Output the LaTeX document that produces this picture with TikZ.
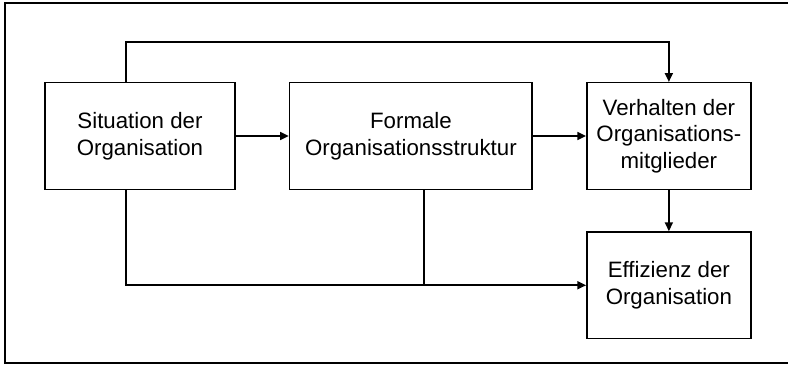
\documentclass[tikz,border=0pt]{standalone}
\usepackage{fontspec}
\setmainfont{Liberation Sans}
\usetikzlibrary{arrows.meta,positioning}
\tikzset{
  flowarrow/.style={-{Triangle[length=6.5pt,width=6pt]}, line width=1.2pt},
  flowline/.style={line width=1.2pt},
  block/.style={draw, line width=1.2pt, align=center, minimum height=80pt,
    inner sep=2pt, font=\fontsize{16.7}{20}\selectfont}
}
\begin{document}
\begin{tikzpicture}[node distance=30.75pt and 39.75pt]
    \useasboundingbox (0,0) rectangle (591pt,-273.75pt);
    % frame, open on the right
    \draw[flowline] (591pt,-2.25pt) -- (3.75pt,-2.25pt) -- (3.75pt,-272.25pt) -- (591pt,-272.25pt);

    \node[block, minimum width=142.5pt] (sit) at (105pt,-102pt) {Situation der\\Organisation};
    \node[block, minimum width=182pt, right=of sit] (form) {Formale\\Organisationsstruktur};
    \node[block, minimum width=123pt, right=of form] (verh) {Verhalten der\\Organisations-\\mitglieder};
    \node[block, minimum width=123pt, below=of verh] (eff) {Effizienz der\\Organisation};

    \coordinate (situp) at ([xshift=-10.5pt]sit.north);
    \coordinate (sitdown) at ([xshift=-10.5pt]sit.south);
    \coordinate (formdown) at ([xshift=10pt]form.south);

    \draw[flowarrow] (sit) -- (form);
    \draw[flowarrow] (form) -- (verh);
    \draw[flowarrow] (verh) -- (eff);
    \draw[flowarrow] (situp) -- ++(0,30pt) -| (verh.north);
    \draw[flowarrow] (sitdown) |- (eff.west);
    \draw[flowline] (formdown) -- (formdown |- eff.west);
\end{tikzpicture}
\end{document}
